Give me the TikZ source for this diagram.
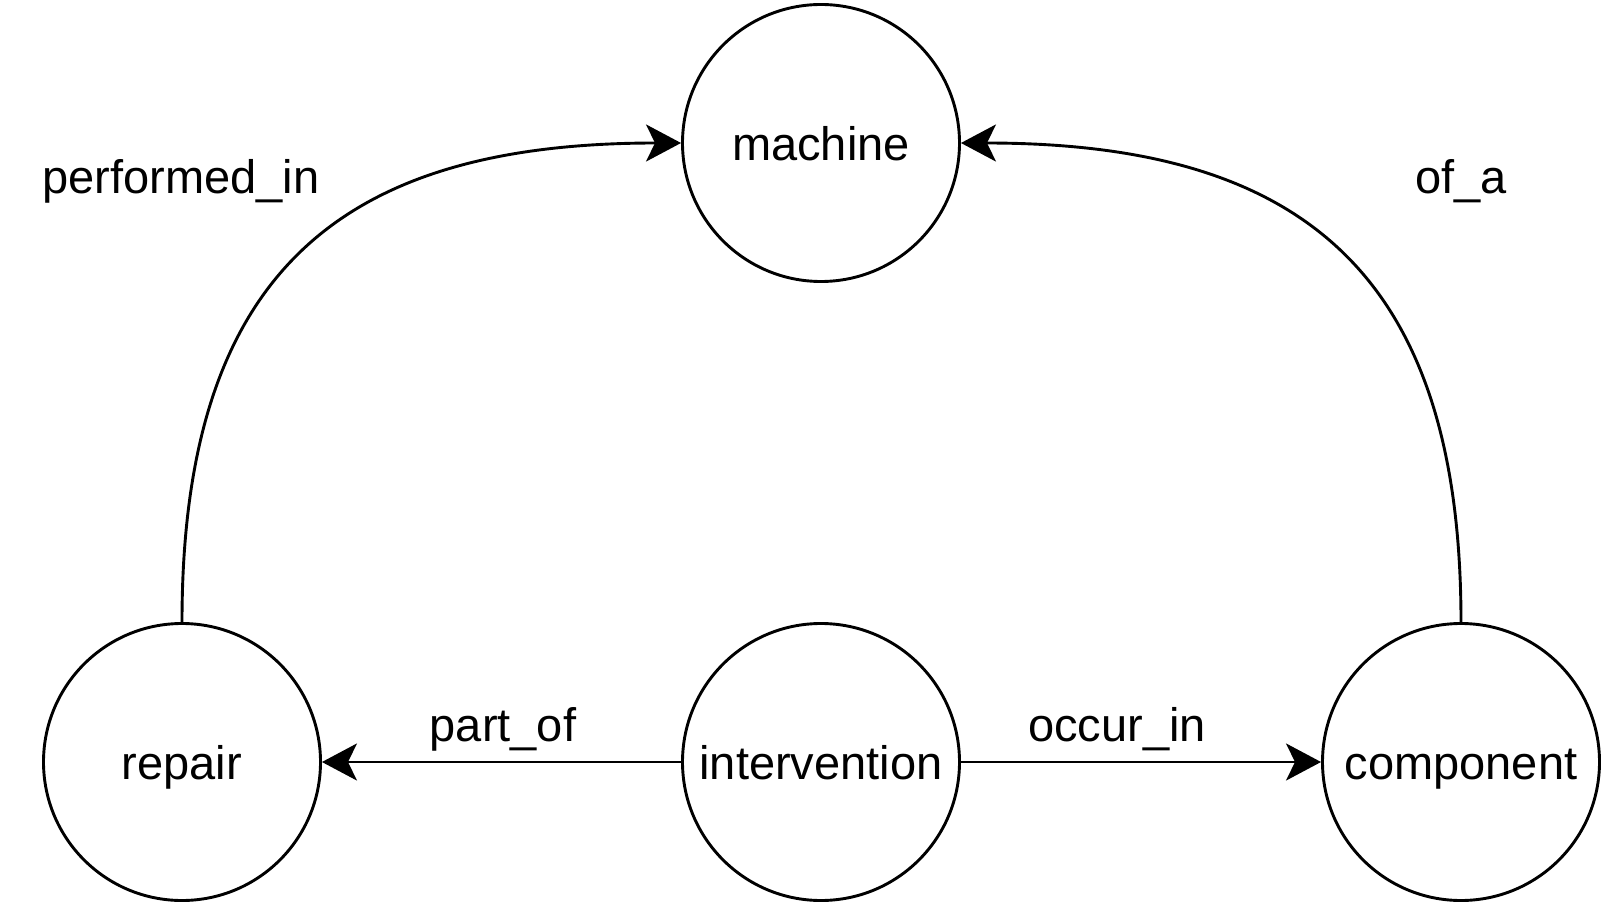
\documentclass[tikz,border=0pt]{standalone}
\usepackage{fontspec}
\setmainfont{Liberation Sans}
\usetikzlibrary{arrows.meta}
\begin{document}
\begin{tikzpicture}[x=1pt,y=-1pt,
    entity/.style={draw,circle,line width=2.9pt,minimum size=277pt,inner sep=0pt,text height=44.6pt,text depth=10.3pt,font=\fontsize{47}{56}\selectfont},
    rel/.style={inner sep=0pt,text height=44.6pt,text depth=10.3pt,font=\fontsize{47}{56}\selectfont},
    link/.style={line width=2.9pt,-{Stealth[length=35pt,width=37pt,inset=9pt]}}]
    \useasboundingbox (0,0) rectangle (1604,904);
    \node[entity] (machine) at (821,143) {machine};
    \node[entity] (repair) at (182,762) {repair};
    \node[entity] (intervention) at (821,762) {intervention};
    \node[entity] (component) at (1461,762) {component};
    \draw[link] (repair.north) .. controls +(0,-350) and +(-340,0) .. (machine.west);
    \draw[link] (component.north) .. controls +(0,-350) and +(340,0) .. (machine.east);
    \draw[link] (intervention) -- (repair);
    \draw[link] (intervention) -- (component);
    \node[rel] (performedin) at (181,176) {performed\_in};
    \node[rel] (ofa) at (1461,176) {of\_a};
    \node[rel] (partof) at (503,724) {part\_of};
    \node[rel] (occurin) at (1117,724) {occur\_in};
\end{tikzpicture}
\end{document}
